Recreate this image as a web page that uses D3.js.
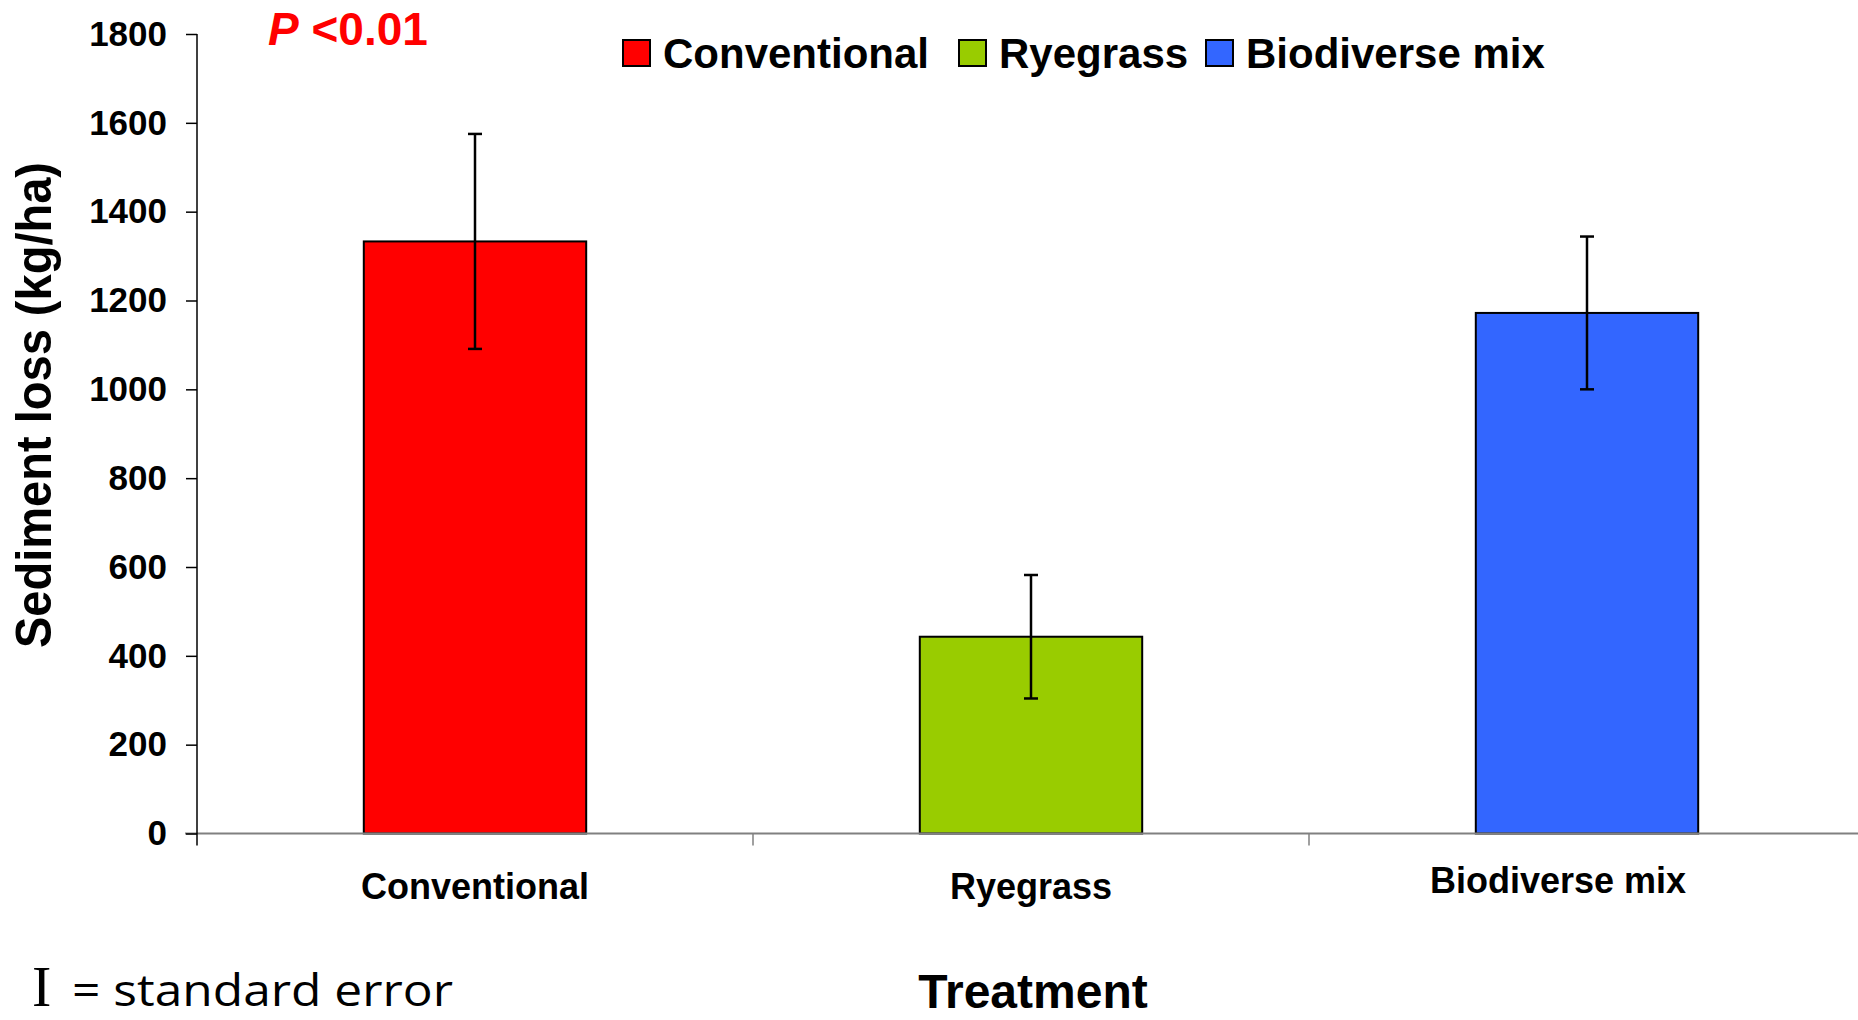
<!DOCTYPE html>
<html>
<head>
<meta charset="utf-8">
<script src="https://cdn.jsdelivr.net/npm/d3@7"></script>
<style>
  html, body { margin: 0; padding: 0; background: #fff; }
  svg { display: block; }
</style>
</head>
<body>
<svg id="chart" width="1858" height="1020"></svg>
<script>
// Treatments, mean sediment loss (kg/ha) and standard errors
const categories = ["Conventional", "Ryegrass", "Biodiverse mix"];
const meanLoss = [1333, 443, 1172];
const stdError = [242, 139, 172];
const barColors = ["#FF0000", "#99CC00", "#3366FF"];
const yTicks = [0, 200, 400, 600, 800, 1000, 1200, 1400, 1600, 1800];

const sansBold = "'Liberation Sans', Arial, sans-serif";

const svg = d3.select("#chart");

const plotLeft = 197, plotBottom = 833.5, plotTop = 34;
const step = 556;

const x = d3.scaleBand()
  .domain(categories)
  .range([plotLeft, plotLeft + step * categories.length])
  .paddingInner(0).paddingOuter(0);

const y = d3.scaleLinear().domain([0, 1800]).range([plotBottom, plotTop]);

const barW = x.bandwidth() * 0.4;

// bars
svg.append("g").selectAll("rect")
  .data(categories)
  .join("rect")
  .attr("x", d => x(d) + x.bandwidth() / 2 - barW / 2)
  .attr("y", (d, i) => y(meanLoss[i]))
  .attr("width", barW)
  .attr("height", (d, i) => y(0) - y(meanLoss[i]))
  .attr("fill", (d, i) => barColors[i])
  .attr("stroke", "#000")
  .attr("stroke-width", 2);

// error bars
const err = svg.append("g").attr("stroke", "#000").attr("stroke-width", 2.5);
categories.forEach((c, i) => {
  const cx = x(c) + x.bandwidth() / 2;
  const hi = y(meanLoss[i] + stdError[i]);
  const lo = y(meanLoss[i] - stdError[i]);
  err.append("line").attr("x1", cx).attr("x2", cx).attr("y1", hi).attr("y2", lo);
  err.append("line").attr("x1", cx - 7).attr("x2", cx + 7).attr("y1", hi).attr("y2", hi);
  err.append("line").attr("x1", cx - 7).attr("x2", cx + 7).attr("y1", lo).attr("y2", lo);
});

// x axis: baseline plus ticks at category boundaries
const xg = svg.append("g");
xg.append("line")
  .attr("x1", plotLeft - 12).attr("x2", 1858)
  .attr("y1", y(0)).attr("y2", y(0))
  .attr("stroke", "#808080").attr("stroke-width", 2);
const bounds = categories.map(c => x(c));
xg.selectAll("line.tick")
  .data(bounds.slice(1))
  .join("line")
  .attr("class", "tick")
  .attr("x1", d => d).attr("x2", d => d)
  .attr("y1", y(0)).attr("y2", y(0) + 12)
  .attr("stroke", "#808080").attr("stroke-width", 1.5);

// category labels
const labelNudge = [[0, 0], [0, 0], [-29, -6]];
xg.selectAll("text")
  .data(categories)
  .join("text")
  .attr("x", (d, i) => x(d) + x.bandwidth() / 2 + labelNudge[i][0])
  .attr("y", (d, i) => 899 + labelNudge[i][1])
  .attr("text-anchor", "middle")
  .style("font-family", sansBold)
  .attr("font-weight", "bold")
  .attr("font-size", 36)
  .text(d => d);

// y axis
const yAxis = d3.axisLeft(y)
  .tickValues(yTicks)
  .tickFormat(d3.format("d"))
  .tickSize(11).tickPadding(19).tickSizeOuter(0);
const yg = svg.append("g").attr("transform", `translate(${plotLeft},0)`).call(yAxis);
yg.select(".domain").attr("stroke", "#000").attr("stroke-width", 1.5)
  .attr("d", `M0,${plotTop}V${plotBottom + 12}`);
yg.selectAll(".tick line").attr("stroke", "#000").attr("stroke-width", 1.5);
yg.selectAll(".tick text")
  .style("font-family", sansBold)
  .attr("font-weight", "bold")
  .attr("font-size", 35)
  .attr("fill", "#000");

// y axis title
svg.append("text")
  .attr("transform", "translate(51,405) rotate(-90)")
  .attr("text-anchor", "middle")
  .style("font-family", sansBold)
  .attr("font-weight", "bold")
  .attr("font-size", 50)
  .attr("textLength", 486)
  .attr("lengthAdjust", "spacingAndGlyphs")
  .text("Sediment loss (kg/ha)");

// x axis title
svg.append("text")
  .attr("x", 1033).attr("y", 1008)
  .attr("text-anchor", "middle")
  .style("font-family", sansBold)
  .attr("font-weight", "bold")
  .attr("font-size", 48)
  .text("Treatment");

// significance note
const p = svg.append("text")
  .attr("x", 268).attr("y", 45)
  .style("font-family", sansBold)
  .attr("font-weight", "bold")
  .attr("font-size", 46)
  .attr("fill", "#FF0000");
p.append("tspan").attr("font-style", "italic").text("P");
p.append("tspan").text(" <0.01");

// legend
const legendX = [623, 959, 1206];
const lg = svg.append("g");
categories.forEach((c, i) => {
  lg.append("rect")
    .attr("x", legendX[i]).attr("y", 40)
    .attr("width", 27).attr("height", 26)
    .attr("fill", barColors[i])
    .attr("stroke", "#000").attr("stroke-width", 2);
  lg.append("text")
    .attr("x", legendX[i] + 40).attr("y", 67.5)
    .style("font-family", sansBold)
    .attr("font-weight", "bold")
    .attr("font-size", 42)
    .text(c);
});

// error bar key
svg.append("text")
  .attr("x", 32).attr("y", 1006)
  .style("font-family", "'Liberation Serif', 'DejaVu Serif', serif")
  .attr("font-size", 58)
  .text("I");
svg.append("text")
  .attr("x", 72).attr("y", 1006)
  .style("font-family", "'Open Sans', sans-serif")
  .attr("font-weight", 400)
  .attr("font-size", 44)
  .attr("textLength", 381)
  .attr("lengthAdjust", "spacingAndGlyphs")
  .text("= standard error");
</script>
</body>
</html>
